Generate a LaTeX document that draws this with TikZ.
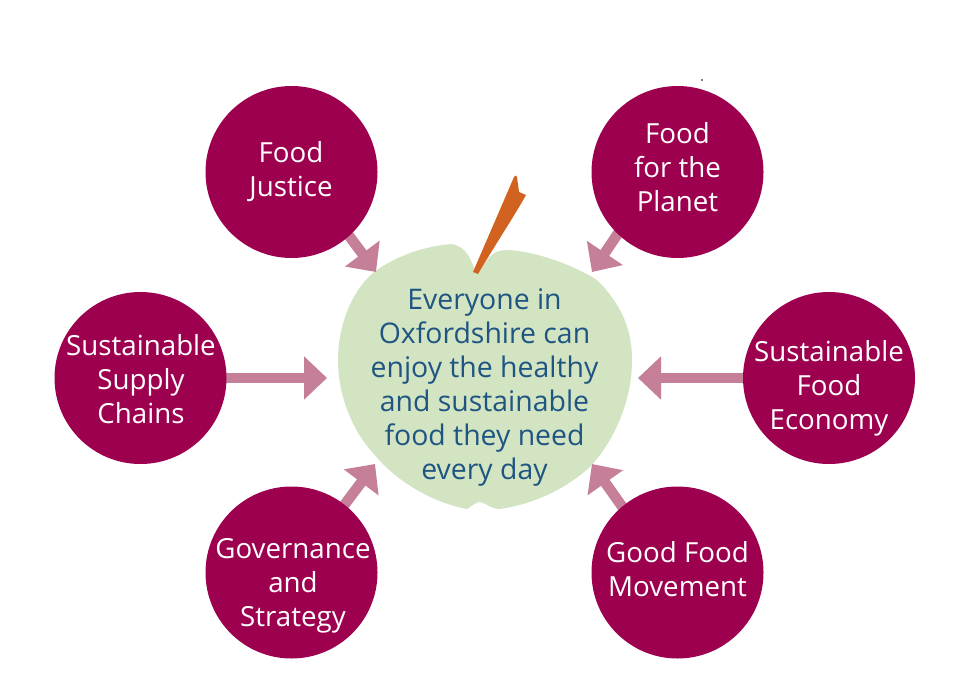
\documentclass[tikz,border=0pt]{standalone}
\usepackage{fontspec}
\setmainfont{Open Sans}
\usetikzlibrary{arrows.meta}
\pgfdeclarelayer{under}
\pgfsetlayers{under,main}
\definecolor{plum}{HTML}{9E0050}
\definecolor{pinkarrow}{HTML}{C67F98}
\definecolor{applegreen}{HTML}{D2E4C1}
\definecolor{stemorange}{HTML}{D2621F}
\definecolor{bluetext}{HTML}{1F5583}
\tikzset{
  pillar/.style={circle,fill=plum,minimum size=172pt,inner sep=0pt},
  pillartext/.style={text=white,align=center,inner sep=0pt,font=\fontsize{27.7}{34}\selectfont},
  feed/.style={draw=pinkarrow,line width=10.5pt,shorten <=-4pt,-{Triangle[length=23pt,width=42pt,fill=pinkarrow]}},
  core/.style={text=bluetext,align=center,font=\fontsize{28.4}{34}\selectfont,inner sep=0pt}
}
\begin{document}
\begin{tikzpicture}[x=1pt,y=-1pt]
\useasboundingbox (0,0) rectangle (965,687);
\begin{pgfonlayer}{under}
\fill[white] (0,0) rectangle (965,687);
% apple
\fill[applegreen] (476,274)
  .. controls (471,258) and (466,247) .. (452,244)
  .. controls (425,246) and (395,256) .. (373,273)
  .. controls (352,291) and (338,325) .. (338,360)
  .. controls (338,395) and (352,430) .. (373,453)
  .. controls (395,480) and (430,502) .. (467,509)
  .. controls (472,506) and (476,502) .. (480,502)
  .. controls (486,503) and (491,509) .. (500,509)
  .. controls (540,503) and (570,485) .. (590,467)
  .. controls (615,440) and (632,400) .. (632,360)
  .. controls (632,330) and (622,305) .. (597,280)
  .. controls (570,263) and (530,250) .. (505,250)
  .. controls (495,251) and (490,255) .. (486,262) -- cycle;
\end{pgfonlayer}
% stem
\fill[stemorange] (473,272) -- (514,177) .. controls (515,175) and (517,175) .. (517,177)
  -- (519,192) -- (526,195) .. controls (515,215) and (495,245) .. (478,274) -- cycle;
\fill[black] (702,80) circle (0.8pt);
% nodes
\node[pillar] (justice) at (291.5,172) {};
\node[pillar] (planet) at (677.5,172) {};
\node[pillar] (supply) at (140.5,378) {};
\node[pillar] (economy) at (829,378) {};
\node[pillar] (governance) at (291.5,572.5) {};
\node[pillar] (movement) at (677.5,572.5) {};
\node[pillartext] (justicetext) at (291,172) {Food\\Justice};
\node[pillartext] (planettext) at (677.5,167) {Food\\for the\\Planet};
\node[pillartext] (supplytext) at (141,379) {Sustainable\\Supply\\Chains};
\node[pillartext] (economytext) at (829,388) {Sustainable\\Food\\Economy};
\node[pillartext] (governancetext) at (293,586) {Governance\\and\\Strategy};
\node[pillartext] (movementtext) at (677.5,569.5) {Good Food\\Movement};
\node[core] (centre) at (484.5,387) {Everyone in\\Oxfordshire can\\enjoy the healthy\\and sustainable\\food they need\\every day};
\coordinate (tipJ) at (376,272);
\coordinate (tipP) at (592,272);
\coordinate (tipS) at (327,378);
\coordinate (tipE) at (638,378);
\coordinate (tipG) at (375,464);
\coordinate (tipM) at (592,464);
\begin{pgfonlayer}{under}
\draw[feed] (justice.312) -- (tipJ);
\draw[feed] (planet.226) -- (tipP);
\draw[feed] (supply) -- (tipS);
\draw[feed] (economy) -- (tipE);
\draw[feed] (governance.52) -- (tipG);
\draw[feed] (movement.130) -- (tipM);
\end{pgfonlayer}
\end{tikzpicture}
\end{document}
